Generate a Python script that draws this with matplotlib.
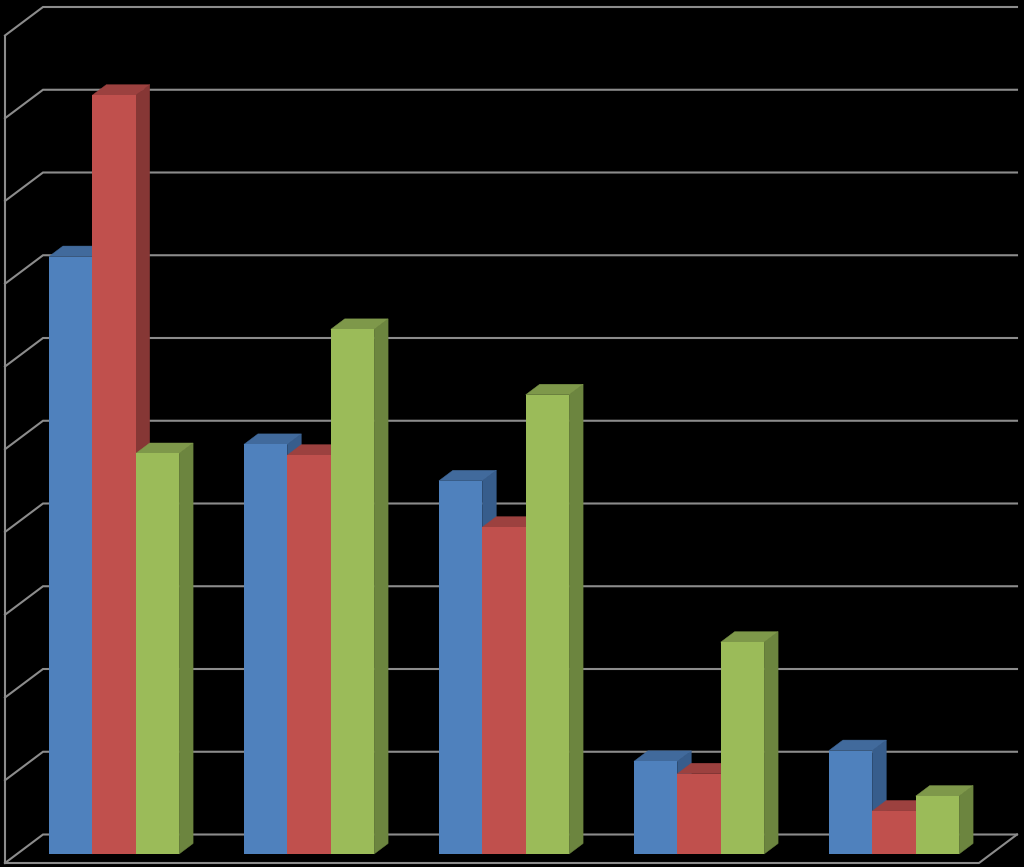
import matplotlib
matplotlib.use("Agg")
import matplotlib.pyplot as plt
from matplotlib.patches import Polygon

blue_values = [72.2, 49.5, 45.1, 11.2, 12.5]
red_values = [91.7, 48.2, 39.5, 9.7, 5.2]
green_values = [48.4, 63.4, 55.5, 25.6, 7.0]
gridline_values = [0, 10, 20, 30, 40, 50, 60, 70, 80, 90, 100]

PX_X = 195.0      # pixels per category
PX_Y = 8.275      # pixels per value unit
W, H = 1024, 867
X0, Y0 = 114.0, 854.0   # pixel of category 0 / value 0 on the bar front plane

fig = plt.figure(figsize=(W / 100, H / 100), dpi=100, facecolor="black")
ax = fig.add_axes([0, 0, 1, 1])
ax.set_facecolor("black")
ax.set_xlim(-X0 / PX_X, (W - X0) / PX_X)
ax.set_ylim((Y0 - H) / PX_Y, Y0 / PX_Y)
ax.axis("off")

bar_w = 43.4 / PX_X
bar_dx, bar_dy = 14 / PX_X, 10.5 / PX_Y
wall_x = (5 - X0) / PX_X
wall_y = (Y0 - 863) / PX_Y
wall_dx, wall_dy = 38 / PX_X, 28.5 / PX_Y
floor_right = (979 - X0) / PX_X

GRID = "#8C8C8C"
LW = 1.5
for v in gridline_values:
    ax.plot([wall_x, wall_x + wall_dx, floor_right + wall_dx],
            [wall_y + v, wall_y + wall_dy + v, wall_y + wall_dy + v],
            color=GRID, lw=LW, zorder=1, solid_joinstyle="miter")
ax.plot([wall_x, wall_x], [wall_y, wall_y + 100], color=GRID, lw=LW, zorder=1)
ax.plot([wall_x, floor_right, floor_right + wall_dx],
        [wall_y, wall_y, wall_y + wall_dy], color=GRID, lw=LW, zorder=1)

series = [
    (blue_values, "#4F81BD", "#416A9C", "#375D8C"),
    (red_values, "#C0504D", "#9C413F", "#863735"),
    (green_values, "#9BBB59", "#7E984A", "#6C853F"),
]

z = 2
for c in range(5):
    for s, (vals, front, top, side) in enumerate(series):
        v = vals[c]
        l = c + (s - 1.5) * bar_w
        r = l + bar_w
        ax.add_patch(Polygon([(r, 0), (r + bar_dx, bar_dy), (r + bar_dx, v + bar_dy), (r, v)],
                             fc=side, ec=side, lw=0.3, zorder=z))
        ax.add_patch(Polygon([(l, v), (l + bar_dx, v + bar_dy), (r + bar_dx, v + bar_dy), (r, v)],
                             fc=top, ec=top, lw=0.3, zorder=z))
        ax.bar(l, v, width=bar_w, align="edge", color=front, lw=0, zorder=z + 1)
        z += 2

fig.savefig("out.png", dpi=100, facecolor="black")
